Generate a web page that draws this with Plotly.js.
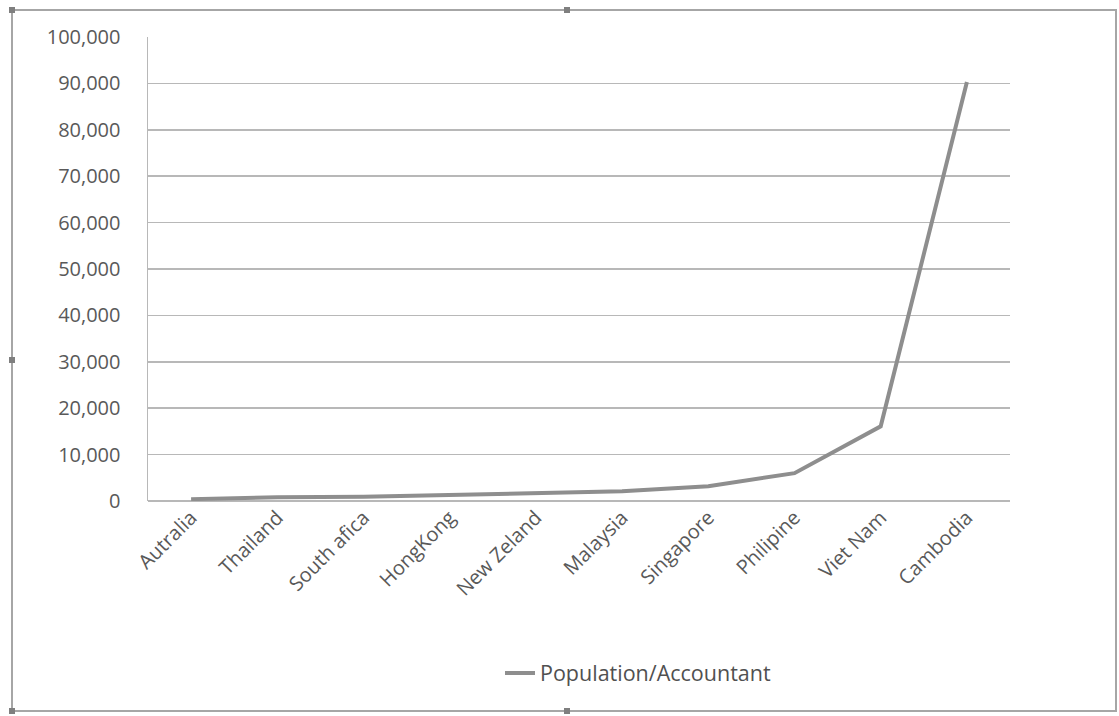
<!DOCTYPE html>
<html>
<head>
<meta charset="utf-8">
<script src="https://cdn.plot.ly/plotly-3.0.1.min.js"></script>
<style>
html,body{margin:0;padding:0;background:#fff;}
#chart{width:1119px;height:716px;}
</style>
</head>
<body>
<div id="chart"></div>
<script>
const countries = ["Autralia","Thailand","South afica","HongKong","New Zeland","Malaysia","Singapore","Philipine","Viet Nam","Cambodia"];
const popPerAccountant = [400, 800, 900, 1300, 1700, 2100, 3200, 6000, 16100, 90300];
const yTickVals = [0,10000,20000,30000,40000,50000,60000,70000,80000,90000,100000];
const yTickText = ["0","10,000","20,000","30,000","40,000","50,000","60,000","70,000","80,000","90,000","100,000"];

const W = 1119, H = 716, L = 148, R = 1010, T = 37, B = 501;
const px = x => (x - L) / (R - L);
const py = y => (B - y) / (B - T);

const trace = {
  x: countries, y: popPerAccountant, type: "scatter", mode: "lines",
  name: "Population/Accountant",
  line: {color: "#8e8e8e", width: 4}
};
const border = "#a6a6a6";
const handle = (x, y) => ({type:"rect", xref:"paper", yref:"paper",
  x0: px(x-3), x1: px(x+3), y0: py(y-3), y1: py(y+3),
  fillcolor:"#7f7f7f", line:{width:0}});
const layout = {
  width: W, height: H,
  margin: {l: L, r: W - R, t: T, b: H - B, pad: 0},
  paper_bgcolor: "#fff", plot_bgcolor: "#fff",
  font: {family: "Open Sans, DejaVu Sans, sans-serif", color: "#595959", size: 21},
  showlegend: true,
  legend: {orientation: "h", x: px(500), xanchor: "left", y: py(673), yanchor: "middle",
           font: {size: 21.5, color: "#505050"}},
  xaxis: {type: "category", tickangle: -45, showgrid: false, showline: false,
          zeroline: false, ticks: "", range: [-0.5, 9.5], ticklabelstandoff: 0,
          tickfont: {size: 20, color: "#595959"}},
  yaxis: {range: [0, 100000], tickvals: yTickVals, ticktext: yTickText,
          showgrid: true, gridcolor: "#b8b8b8", gridwidth: 1.5, zeroline: true,
          zerolinecolor: "#b8b8b8", zerolinewidth: 1.5,
          showline: true, linecolor: "#b8b8b8", linewidth: 1.5, ticks: "", ticklen: 0,
          ticklabelstandoff: 22, tickfont: {size: 20, color: "#595959"}},
  shapes: [
    {type:"rect", xref:"paper", yref:"paper", x0: px(12), x1: px(1116), y0: py(10), y1: py(711),
     line:{color: border, width: 2}, fillcolor:"rgba(0,0,0,0)"},
    handle(12,10), handle(567,10), handle(12,360), handle(567,711), handle(12,711)
  ]
};
Plotly.newPlot("chart", [trace], layout, {displayModeBar: false, staticPlot: true});
</script>
</body>
</html>
